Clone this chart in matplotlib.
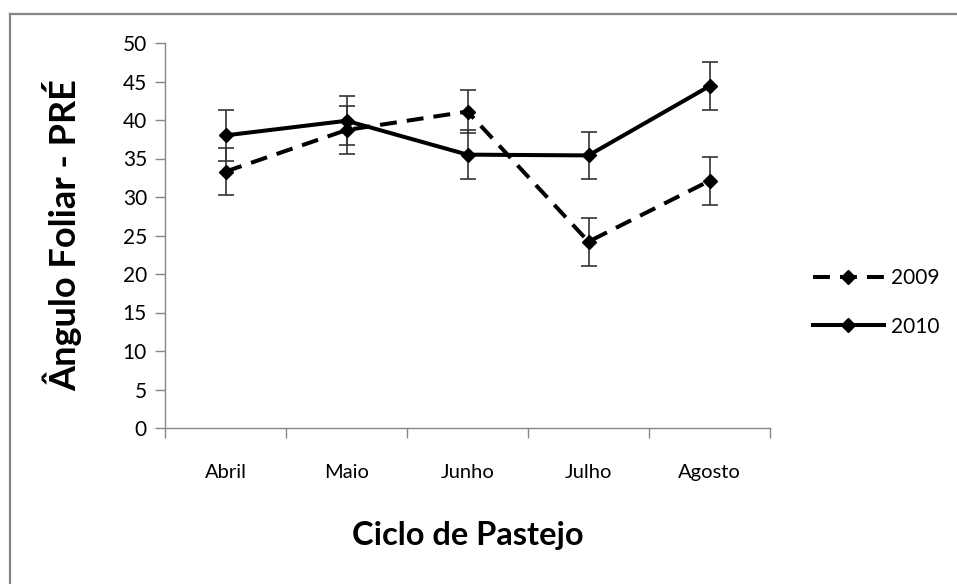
import numpy as np
import matplotlib
matplotlib.use("Agg")
from matplotlib import pyplot as plt
from matplotlib.lines import Line2D

months = ["Abril", "Maio", "Junho", "Julho", "Agosto"]
val_2009 = [33.3, 38.7, 41.1, 24.2, 32.1]
err_2009 = [3.1, 3.1, 2.8, 3.1, 3.1]
val_2010 = [38.0, 39.9, 35.5, 35.4, 44.4]
err_2010 = [3.3, 3.2, 3.2, 3.1, 3.1]
yticks = [0, 5, 10, 15, 20, 25, 30, 35, 40, 45, 50]

plt.rcParams['font.family'] = ['Lato', 'DejaVu Sans']

fig = plt.figure(figsize=(9.57, 5.84), dpi=100)
ax = fig.add_axes([165 / 957, 1 - 428 / 584, 605 / 957, 385 / 584])

x = np.arange(len(months))
axis_col = '#868686'

ax.errorbar(x, val_2009, yerr=err_2009, fmt='none', ecolor='#333333',
            elinewidth=1.2, capsize=6, capthick=1.2, zorder=2)
ax.errorbar(x, val_2010, yerr=err_2010, fmt='none', ecolor='#333333',
            elinewidth=1.2, capsize=6, capthick=1.2, zorder=2)

ax.plot(x, val_2009, color='black', lw=2.9, dashes=(4.2, 2.5), marker='D',
        markersize=7, label='2009', zorder=3)
ax.plot(x, val_2010, color='black', lw=2.9, marker='D', markersize=7,
        label='2010', zorder=3)

ax.set_xlim(-0.5, len(months) - 0.5)
ax.set_ylim(0, 50)
ax.set_yticks(yticks)
ax.set_xticks(x)
ax.set_xticklabels(months)
ax.set_xticks(np.arange(len(months) + 1) - 0.5, minor=True)
ax.tick_params(axis='x', which='major', length=0, pad=26, labelsize=14.5,
               colors='black')
ax.tick_params(axis='x', which='minor', length=7, width=1, color=axis_col,
               direction='out')
ax.tick_params(axis='y', length=7, width=1, color=axis_col, labelsize=15,
               pad=6)

for s in ['top', 'right']:
    ax.spines[s].set_visible(False)
for s in ['left', 'bottom']:
    ax.spines[s].set_color(axis_col)
    ax.spines[s].set_linewidth(1)

ax.set_ylabel('Ângulo Foliar - PRÉ', fontsize=26, fontweight='bold', va='center')
ax.yaxis.set_label_coords(-0.170, 0.5)
ax.set_xlabel('Ciclo de Pastejo', fontsize=23.5, fontweight='bold', va='center')
ax.xaxis.set_label_coords(0.5, -0.278)

ax.legend(loc='center left', bbox_to_anchor=(1.071, 0.326), frameon=False,
          fontsize=15, handlelength=3.4, handletextpad=0.35, labelspacing=1.35,
          borderpad=0, borderaxespad=0)

# frame lines of the chart area (only top and left visible)
fig.add_artist(Line2D([9.5 / 957, 1], [1 - 13.5 / 584, 1 - 13.5 / 584],
                      transform=fig.transFigure, color=axis_col, lw=1.6))
fig.add_artist(Line2D([9.5 / 957, 9.5 / 957], [0, 1 - 13.5 / 584],
                      transform=fig.transFigure, color=axis_col, lw=1.6))

fig.savefig('out.png', dpi=100, facecolor='white')
